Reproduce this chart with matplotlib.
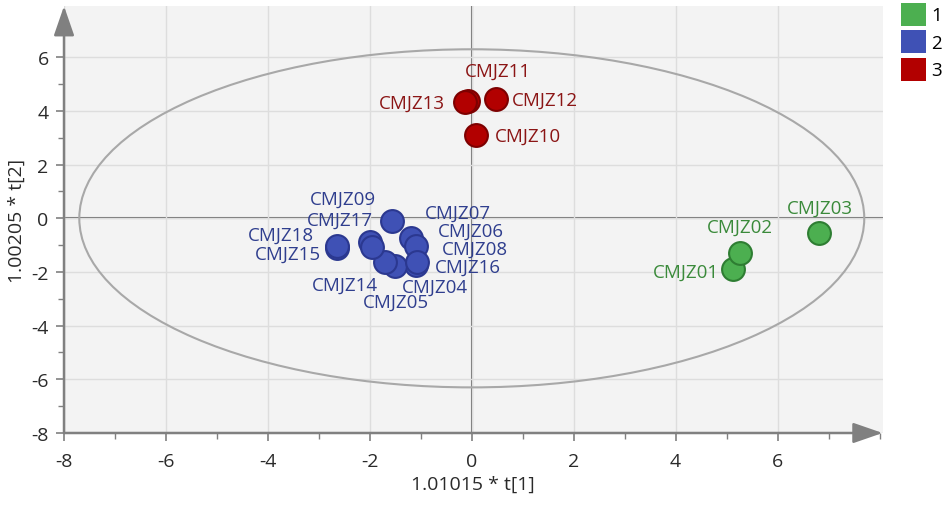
import matplotlib
matplotlib.use("Agg")
import matplotlib.pyplot as plt
from matplotlib.patches import Ellipse, Patch
from matplotlib.ticker import MultipleLocator, FixedLocator

plt.rcParams['font.family'] = ['Open Sans', 'DejaVu Sans']
plt.rcParams['axes.unicode_minus'] = False

# Score values per class
class1_names = ["CMJZ01", "CMJZ02", "CMJZ03"]
class1_t1 = [5.12, 5.27, 6.82]
class1_t2 = [-1.90, -1.31, -0.56]

class2_names = ["CMJZ04", "CMJZ05", "CMJZ06", "CMJZ07", "CMJZ08", "CMJZ09",
                "CMJZ14", "CMJZ15", "CMJZ16", "CMJZ17", "CMJZ18"]
class2_t1 = [-1.10, -1.51, -1.20, -1.57, -1.10, -2.00,
             -1.71, -2.64, -1.08, -1.96, -2.65]
class2_t2 = [-1.75, -1.79, -0.72, -0.10, -1.04, -0.90,
             -1.64, -1.12, -1.62, -1.08, -1.04]

class3_names = ["CMJZ10", "CMJZ11", "CMJZ12", "CMJZ13"]
class3_t1 = [0.08, -0.08, 0.47, -0.14]
class3_t2 = [3.10, 4.37, 4.44, 4.33]

legend_labels = ["1", "2", "3"]
x_ticks = [-8, -6, -4, -2, 0, 2, 4, 6]
y_ticks = [-8, -6, -4, -2, 0, 2, 4, 6]
x_label = "1.01015 * t[1]"
y_label = "1.00205 * t[2]"

# Hotelling T2 ellipse semi-axes
ellipse_a = 7.7
ellipse_b = 6.3

# label offsets (pixels) relative to each point
label_offsets = {
    "CMJZ01": (-47, -2), "CMJZ02": (-1, 27), "CMJZ03": (0, 26),
    "CMJZ04": (19, -21), "CMJZ05": (1, -35), "CMJZ06": (60, 7),
    "CMJZ07": (66, 8), "CMJZ08": (59, -3), "CMJZ09": (-27, 44),
    "CMJZ14": (-40, -22), "CMJZ15": (-49, -5), "CMJZ16": (51, -5),
    "CMJZ17": (-32, 28), "CMJZ18": (-56, 11),
    "CMJZ10": (52, -1), "CMJZ11": (30, 30), "CMJZ12": (49, -1),
    "CMJZ13": (-53, -1),
}

styles = [
    dict(face="#4caf50", edge="#2e7d32", text="#3a8a3a"),
    dict(face="#3f51b5", edge="#2b3890", text="#2f3e8e"),
    dict(face="#b20000", edge="#7d0000", text="#8b1515"),
]

fig = plt.figure(figsize=(9.47, 5.06), dpi=100)
ax = fig.add_axes([0.0676, 0.1423, 0.8644, 0.8437])
ax.set_facecolor("#f3f3f3")
ax.set_xlim(-8, 8.06)
ax.set_ylim(-8, 7.91)

ax.xaxis.set_major_locator(FixedLocator(x_ticks))
ax.xaxis.set_minor_locator(MultipleLocator(1))
ax.yaxis.set_major_locator(FixedLocator(y_ticks))
ax.yaxis.set_minor_locator(MultipleLocator(1))
ax.grid(True, which="major", color="#dddddd", lw=1.0, zorder=0)
ax.tick_params(which="major", direction="out", length=6, color="#808080",
               width=1.2, labelsize=14, labelcolor="#2a2a2a", pad=5)
ax.tick_params(axis="x", which="major", pad=8)
ax.tick_params(which="minor", direction="out", length=4, color="#808080",
               width=1.0)
for s in ax.spines.values():
    s.set_visible(False)

# zero lines
ax.axhline(0, color="#6e6e6e", lw=1.5, zorder=1)
ax.axvline(0, color="#6e6e6e", lw=1.5, zorder=1)

# axes with arrow heads
arrow_kw = dict(arrowstyle="-|>,head_length=1.3,head_width=0.45",
                color="#808080", lw=1.8, shrinkA=0, shrinkB=0,
                mutation_scale=14)
ax.annotate("", xy=(1.0, 0.0), xytext=(0.0, 0.0), xycoords="axes fraction",
            arrowprops=arrow_kw, annotation_clip=False)
ax.annotate("", xy=(0.0, 1.0), xytext=(0.0, 0.0), xycoords="axes fraction",
            arrowprops=arrow_kw, annotation_clip=False)

ax.add_patch(Ellipse((0, 0), 2 * ellipse_a, 2 * ellipse_b, fill=False,
                     ec="#a8a8a8", lw=1.5, zorder=2))

groups = [
    (class1_names, class1_t1, class1_t2),
    (class2_names, class2_t1, class2_t2),
    (class3_names, class3_t1, class3_t2),
]
for (names, xs, ys), st in zip(groups, styles):
    ax.scatter(xs, ys, s=270, c=st["face"], edgecolors=st["edge"],
               linewidths=1.5, zorder=4)
    for n, x, y in zip(names, xs, ys):
        dx, dy = label_offsets[n]
        ax.annotate(n, (x, y), xytext=(dx, dy), textcoords="offset pixels",
                    ha="center", va="center", fontsize=13.5,
                    color=st["text"], zorder=5)

ax.set_xlabel(x_label, fontsize=14, color="#2a2a2a", labelpad=3)
ax.set_ylabel(y_label, fontsize=14, color="#2a2a2a", labelpad=4)

handles = [Patch(facecolor=st["face"], edgecolor="none") for st in styles]
fig.legend(handles, legend_labels, loc="upper left",
           bbox_to_anchor=(0.947, 1.0), frameon=False, fontsize=13.5,
           handlelength=1.35, handleheight=1.5, handletextpad=0.3,
           labelspacing=0.25, borderaxespad=0.0, borderpad=0.2)

fig.savefig("out.png", dpi=100)
